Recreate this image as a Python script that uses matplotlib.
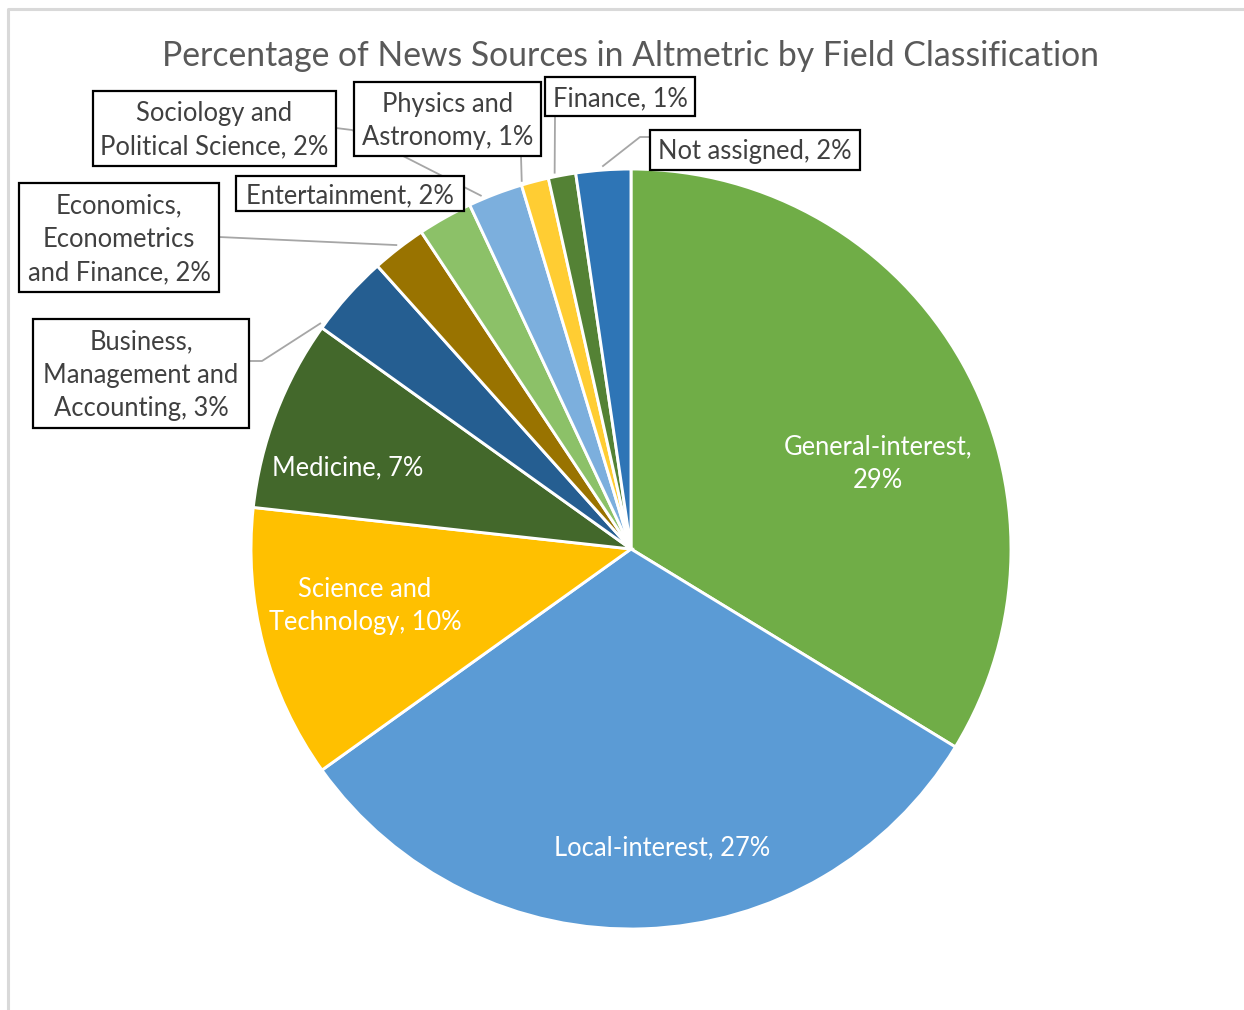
import numpy as np
import matplotlib.pyplot as plt
from matplotlib.patches import Rectangle

plt.rcParams['font.family'] = ['Lato', 'DejaVu Sans']

# share of news sources per field (percent, as labelled)
fields = ['General-interest', 'Local-interest', 'Science and Technology', 'Medicine',
          'Business, Management and Accounting', 'Economics, Econometrics and Finance',
          'Entertainment', 'Sociology and Political Science', 'Physics and Astronomy',
          'Finance', 'Not assigned']
shares = [29, 27, 10, 7, 3, 2, 2, 2, 1, 1, 2]
colors = ['#70AD47', '#5B9BD5', '#FFC000', '#43682B', '#255E91', '#997300',
          '#8CC168', '#7CAFDD', '#FFCD33', '#548235', '#2E75B6']
label_fmt = ['General-interest,\n{}%', 'Local-interest, {}%', 'Science and\nTechnology, {}%',
             'Medicine, {}%', 'Business,\nManagement and\nAccounting, {}%',
             'Economics,\nEconometrics\nand Finance, {}%', 'Entertainment, {}%',
             'Sociology and\nPolitical Science, {}%', 'Physics and\nAstronomy, {}%',
             'Finance, {}%', 'Not assigned, {}%']
title = 'Percentage of News Sources in Altmetric by Field Classification'

W, H = 1244, 1010
fig = plt.figure(figsize=(W / 100, H / 100), dpi=100)
ax = fig.add_axes([0, 0, 1, 1])

cx, cy, R = 631, H - 549, 380
wedges, _ = ax.pie(shares, colors=colors, startangle=90, counterclock=False,
                   center=(cx, cy), radius=R,
                   wedgeprops=dict(edgecolor='white', linewidth=2.1))
ax.set_xlim(0, W)
ax.set_ylim(0, H)
ax.set_aspect('equal')
ax.axis('off')

# chart frame (top and left edges only)
ax.plot([8, 8, W], [0, H - 9, H - 9], color='#D9D9D9', lw=2.2, solid_capstyle='butt')

ax.text(631, H - 56, title, ha='center', va='center', fontsize=24.3, color='#595959')

texts = [f.format(s) for f, s in zip(label_fmt, shares)]
fs = 18.4
ls = 1.42
dy = 2  # small downward nudge for text centring

# labels inside the big slices (pixel positions, y from top)
inside = {0: (878, 462), 1: (662, 846), 2: (365, 604), 3: (348, 466)}
for i, (x, y) in inside.items():
    ax.text(x, H - y - dy, texts[i], ha='center', va='center', fontsize=fs,
            color='white', linespacing=ls, zorder=4)

# boxed labels for the small slices: x0, y0, x1, y1 from top-left
boxes = {4: (33, 319, 249, 428), 5: (19, 183, 219, 292), 6: (236, 176, 464, 211),
         7: (93, 91, 336, 166), 8: (354, 82, 541, 156), 9: (545, 77, 695, 116),
         10: (650, 130, 860, 170)}
for i, (x0, y0, x1, y1) in boxes.items():
    ax.add_patch(Rectangle((x0, H - y1), x1 - x0, y1 - y0, facecolor='white',
                           edgecolor='black', lw=1.6, zorder=3))
    ax.text((x0 + x1) / 2, H - (y0 + y1) / 2 - dy, texts[i], ha='center', va='center',
            fontsize=fs, color='#404040', linespacing=ls, zorder=4)

# leader lines: start point, optional elbow, position along the wedge
# (0 = its leading edge going clockwise)
leaders = {4: ((249, 361), (262, 361), 0.03), 5: ((219, 237), None, 0.5),
           7: ((336, 128), (352, 130), 0.25), 8: ((521, 156), None, 0.05),
           9: ((555, 116), None, 0.26), 10: ((650, 137), (640, 137), 0.5)}
for i, (start, elbow, t) in leaders.items():
    w = wedges[i]
    ang = np.deg2rad(w.theta2 - t * (w.theta2 - w.theta1))
    ex, ey = cx + (R + 4) * np.cos(ang), cy + (R + 4) * np.sin(ang)
    pts = [(start[0], H - start[1])]
    if elbow is not None:
        pts.append((elbow[0], H - elbow[1]))
    pts.append((ex, ey))
    xs, ys = zip(*pts)
    ax.plot(xs, ys, color='#A6A6A6', lw=1.3, zorder=2)

fig.savefig('out.png', dpi=100)
